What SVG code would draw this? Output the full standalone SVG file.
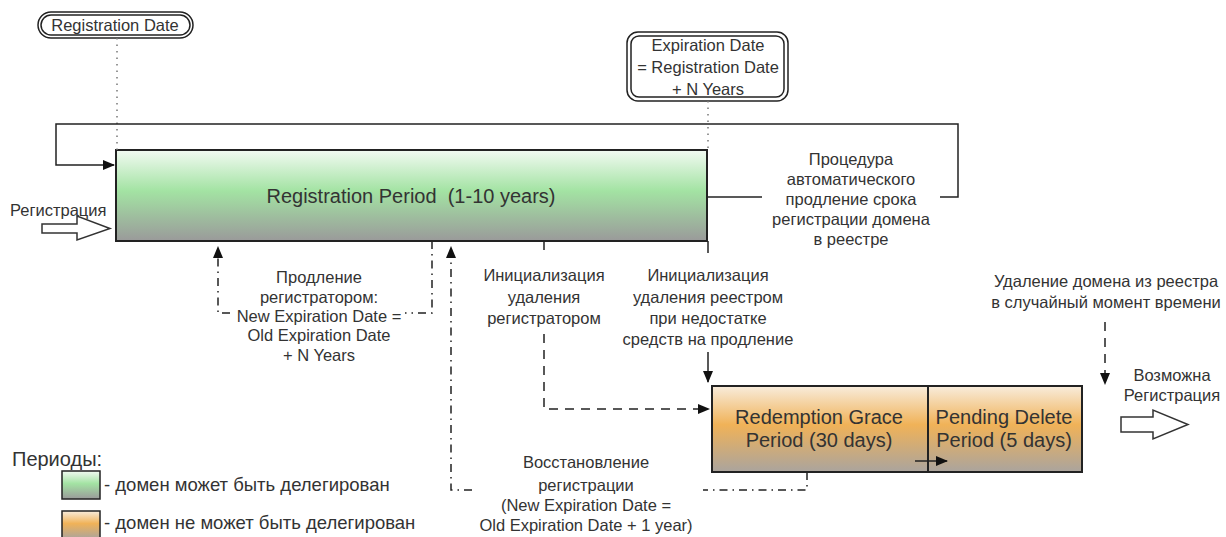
<svg xmlns="http://www.w3.org/2000/svg" width="1226" height="537" viewBox="0 0 1226 537">
<style>
text{font-family:"Liberation Sans",Arial,sans-serif;fill:#333;}
.lb{font-size:16.5px;text-anchor:middle;}
.big{font-size:20px;text-anchor:middle;}
.box{stroke:#222;stroke-width:2;}
.ln{fill:none;stroke:#222;stroke-width:1.5;}
.dot{fill:none;stroke:#777;stroke-width:1.5;stroke-dasharray:1.5,5;}
.dash{fill:none;stroke:#222;stroke-width:1.5;stroke-dasharray:9,7;}
.dd{fill:none;stroke:#222;stroke-width:1.5;stroke-dasharray:8,5,1.5,5;}
.pill{fill:#fff;stroke:#222;stroke-width:1.5;}
.big-arrow{fill:#fff;stroke:#333;stroke-width:1.5;}
</style>
<defs>
<linearGradient id="gG" x1="0" y1="0" x2="0" y2="1">
<stop offset="0" stop-color="#f2faf2"/>
<stop offset="0.45" stop-color="#a3e3a3"/>
<stop offset="1" stop-color="#9a9a9a"/>
</linearGradient>
<linearGradient id="gO" x1="0" y1="0" x2="0" y2="1">
<stop offset="0" stop-color="#f8ecdc"/>
<stop offset="0.45" stop-color="#f0b258"/>
<stop offset="1" stop-color="#aaa49e"/>
</linearGradient>
<marker id="ah" markerWidth="12" markerHeight="10" refX="11" refY="5" orient="auto" markerUnits="userSpaceOnUse">
<path d="M0,0 L12,5 L0,10 Z" fill="#111"/>
</marker>
</defs>

<g id="registration-date">
<rect class="pill" x="38" y="12" width="155" height="26" rx="13"/>
<rect class="pill" x="41" y="15" width="149" height="20" rx="10"/>
<text class="lb" x="115" y="31">Registration Date</text>
</g>

<g id="expiration-date">
<rect class="pill" x="627" y="32" width="161" height="69" rx="11"/>
<rect class="pill" x="631" y="36" width="153" height="61" rx="8"/>
<text class="lb" x="708" y="51">Expiration Date</text>
<text class="lb" x="708" y="73">= Registration Date</text>
<text class="lb" x="708" y="95">+ N Years</text>
</g>

<g id="registration-period">
<rect class="box" x="116" y="150" width="591" height="91" fill="url(#gG)"/>
<text class="big" x="411" y="203" xml:space="preserve">Registration Period  (1-10 years)</text>
</g>

<g id="registration-in">
<text x="10" y="216" font-size="16.5">Регистрация</text>
<path class="big-arrow" d="M42 224 H77 V216 L110 228.5 L77 240 V233 H42 Z"/>
</g>

<g id="auto-renew">
<text class="lb" x="851" y="165">Процедура</text>
<text class="lb" x="851" y="185">автоматического</text>
<text class="lb" x="851" y="205">продление срока</text>
<text class="lb" x="851" y="225">регистрации домена</text>
<text class="lb" x="851" y="245">в реестре</text>
</g>

<g id="renew-registrar">
<text class="lb" x="319" y="283">Продление</text>
<text class="lb" x="319" y="303">регистратором:</text>
<text class="lb" x="319" y="322">New Expiration Date =</text>
<text class="lb" x="319" y="341">Old Expiration Date</text>
<text class="lb" x="319" y="361">+ N Years</text>
</g>

<g id="delete-registrar">
<text class="lb" x="544" y="281">Инициализация</text>
<text class="lb" x="544" y="303">удаления</text>
<text class="lb" x="544" y="324">регистратором</text>
</g>

<g id="delete-registry">
<text class="lb" x="708" y="281">Инициализация</text>
<text class="lb" x="708" y="303">удаления реестром</text>
<text class="lb" x="708" y="324">при недостатке</text>
<text class="lb" x="708" y="345">средств на продление</text>
</g>

<g id="random-delete">
<text class="lb" x="1106" y="287">Удаление домена из реестра</text>
<text class="lb" x="1106" y="308">в случайный момент времени</text>
</g>

<g id="redemption">
<rect class="box" x="712" y="386" width="216" height="86" fill="url(#gO)"/>
<text class="big" x="819" y="424">Redemption Grace</text>
<text class="big" x="819" y="447">Period (30 days)</text>
</g>

<g id="pending-delete">
<rect class="box" x="928" y="386" width="154" height="86" fill="url(#gO)"/>
<text class="big" x="1004" y="424">Pending Delete</text>
<text class="big" x="1004" y="447">Period (5 days)</text>
</g>

<g id="available">
<text class="lb" x="1172" y="381">Возможна</text>
<text class="lb" x="1172" y="401">Регистрация</text>
<path class="big-arrow" d="M1121 417 H1153 V410 L1188 424.5 L1153 439 V432 H1121 Z"/>
</g>

<g id="restore">
<text class="lb" x="586" y="468">Восстановление</text>
<text class="lb" x="586" y="491">регистрации</text>
<text class="lb" x="586" y="511">(New Expiration Date =</text>
<text class="lb" x="586" y="531">Old Expiration Date + 1 year)</text>
</g>

<g id="legend">
<text x="12" y="466" font-size="20">Периоды:</text>
<rect x="62" y="471" width="38" height="28" fill="url(#gG)" stroke="#222" stroke-width="1.5"/>
<text x="104" y="491" font-size="18.5">- домен может быть делегирован</text>
<rect x="62" y="511" width="38" height="28" fill="url(#gO)" stroke="#222" stroke-width="1.5"/>
<text x="104" y="529" font-size="18.5">- домен не может быть делегирован</text>
</g>

<g id="connectors">
<path class="dot" d="M117 38 V150"/>
<path class="dot" d="M708 101 V150"/>
<path class="ln" d="M707 197 H762"/>
<path class="ln" d="M940 197 H958 V124 H56 V165 H114" marker-end="url(#ah)"/>
<path class="dd" d="M432 241 V313 H405"/>
<path class="dd" d="M230 313 H218 V247" marker-end="url(#ah)"/>
<path class="dash" d="M544 241 V256"/>
<path class="dash" d="M544 334 V409 H709" marker-end="url(#ah)"/>
<path class="ln" d="M708 241 V253"/>
<path class="ln" d="M708 352 V382" marker-end="url(#ah)"/>
<path class="dd" d="M807 472 V490 H703"/>
<path class="dd" d="M472 490 H451 V247" marker-end="url(#ah)"/>
<path class="dash" d="M1105 322 V384" marker-end="url(#ah)"/>
<path class="ln" d="M915 461 H947" marker-end="url(#ah)"/>
</g>
</svg>
